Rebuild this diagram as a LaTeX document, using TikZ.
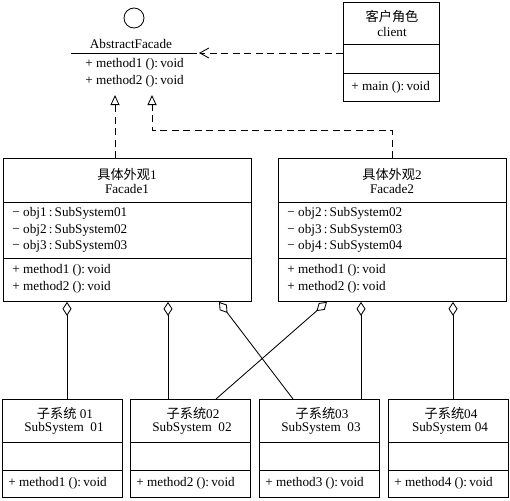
\documentclass[tikz,border=0pt]{standalone}
\usepackage{fontspec}
\setmainfont{Liberation Serif}
\newfontfamily\cjk{Noto Sans CJK SC}
\usetikzlibrary{arrows.meta}
\newcommand{\cl}{\,:\,}
\newcommand{\vd}{():\,void}
\begin{document}
\begin{tikzpicture}[x=1pt,y=-1pt,line width=0.85pt,
  box/.style={draw,anchor=north west,inner sep=0pt},
  txt/.style={inner sep=0pt,font=\fontsize{13.2}{15}\selectfont},
  ltxt/.style={txt,anchor=west},
  dsh/.style={dash pattern=on 7pt off 4.5pt},
  realize/.style={dsh,-{Triangle[open,length=10pt,width=9pt]}},
  dep/.style={dsh,-{Straight Barb[length=9pt,width=10pt]}},
  agg/.style={{Diamond[open,length=14pt,width=9pt]}-}]
\useasboundingbox (0,0) rectangle (510,500);

% abstract facade (interface)
\node[draw,circle,minimum size=20pt,inner sep=0pt] (ic) at (134,18) {};
\node[txt] (absname) at (131,44) {AbstractFacade};
\draw (71,53) -- (197,53);
\node[ltxt] (am1) at (85,64) {+ method1 \vd};
\node[ltxt] (am2) at (85,81) {+ method2 \vd};
\coordinate (absE) at (199,53);
\coordinate (r1) at (115,95);
\coordinate (r2) at (152,95);

% client
\node[box,minimum width=96pt,minimum height=99pt] (client) at (343,2) {};
\draw (343,44) -- (439,44);
\draw (343,73) -- (439,73);
\node[txt] (ct1) at (392,16) {\cjk 客户角色};
\node[txt] (ct2) at (392,32) {client};
\node[ltxt] (cm) at (351,87) {+ main \vd};

% Facade1
\node[box,minimum width=248pt,minimum height=143pt] (f1) at (3,158) {};
\draw (3,202) -- (251,202);
\draw (3,258) -- (251,258);
\node[txt] (f1t1) at (127,174) {{\cjk 具体外观}1};
\node[txt] (f1t2) at (127,189) {Facade1};
\node[ltxt] (f1a1) at (12,213) {− obj1\cl SubSystem01};
\node[ltxt] (f1a2) at (12,230) {− obj2\cl SubSystem02};
\node[ltxt] (f1a3) at (12,246) {− obj3\cl SubSystem03};
\node[ltxt] (f1m1) at (12,270) {+ method1 \vd};
\node[ltxt] (f1m2) at (12,287) {+ method2 \vd};

% Facade2
\node[box,minimum width=228pt,minimum height=143pt] (f2) at (278,158) {};
\draw (278,202) -- (506,202);
\draw (278,258) -- (506,258);
\node[txt] (f2t1) at (392,174) {{\cjk 具体外观}2};
\node[txt] (f2t2) at (392,189) {Facade2};
\node[ltxt] (f2a1) at (287,213) {− obj2\cl SubSystem02};
\node[ltxt] (f2a2) at (287,230) {− obj3\cl SubSystem03};
\node[ltxt] (f2a3) at (287,246) {− obj4\cl SubSystem04};
\node[ltxt] (f2m1) at (287,270) {+ method1 \vd};
\node[ltxt] (f2m2) at (287,287) {+ method2 \vd};

% subsystems
\foreach \n/\x/\t/\s/\m in {1/2/{\cjk 子系统} 01/SubSystem\ \ 01/method1,
                            2/130/{\cjk 子系统}02/SubSystem\ \ 02/method2,
                            3/259/{\cjk 子系统}03/SubSystem\ \ 03/method3,
                            4/388/{\cjk 子系统}04/SubSystem 04/method4}{
  \node[box,minimum width=120pt,minimum height=98pt] (s\n) at (\x,399) {};
  \draw (\x,442) -- ++(120,0);
  \draw (\x,470) -- ++(120,0);
  \node[txt] (s\n t1) at (\x+63,413) {\t};
  \node[txt] (s\n t2) at (\x+62,428) {\s};
  \node[ltxt] (s\n m) at (\x+6,483) {+ \m\ \vd};
}

% connectors
\draw[dep] (client.west |- absE) -- (absE);
\draw[realize] (f1.north -| r1) -- (r1);
\draw[realize] (f2.north) -- ++(0,-28) -| (r2);

\coordinate (a1) at (67,0);
\coordinate (a2) at (168,0);
\coordinate (a3) at (219,0);
\coordinate (b1) at (327,0);
\coordinate (b2) at (361,0);
\coordinate (b3) at (453,0);
\coordinate (e3) at (293,0);
\coordinate (e2) at (216,0);
\draw[agg] (f1.south -| a1) -- (s1.north -| a1);
\draw[agg] (f1.south -| a2) -- (s2.north -| a2);
\draw[agg] (f1.south -| a3) -- (s3.north -| e3);
\draw[agg] (f2.south -| b1) -- (s2.north -| e2);
\draw[agg] (f2.south -| b2) -- (s3.north -| b2);
\draw[agg] (f2.south -| b3) -- (s4.north -| b3);
\end{tikzpicture}
\end{document}
